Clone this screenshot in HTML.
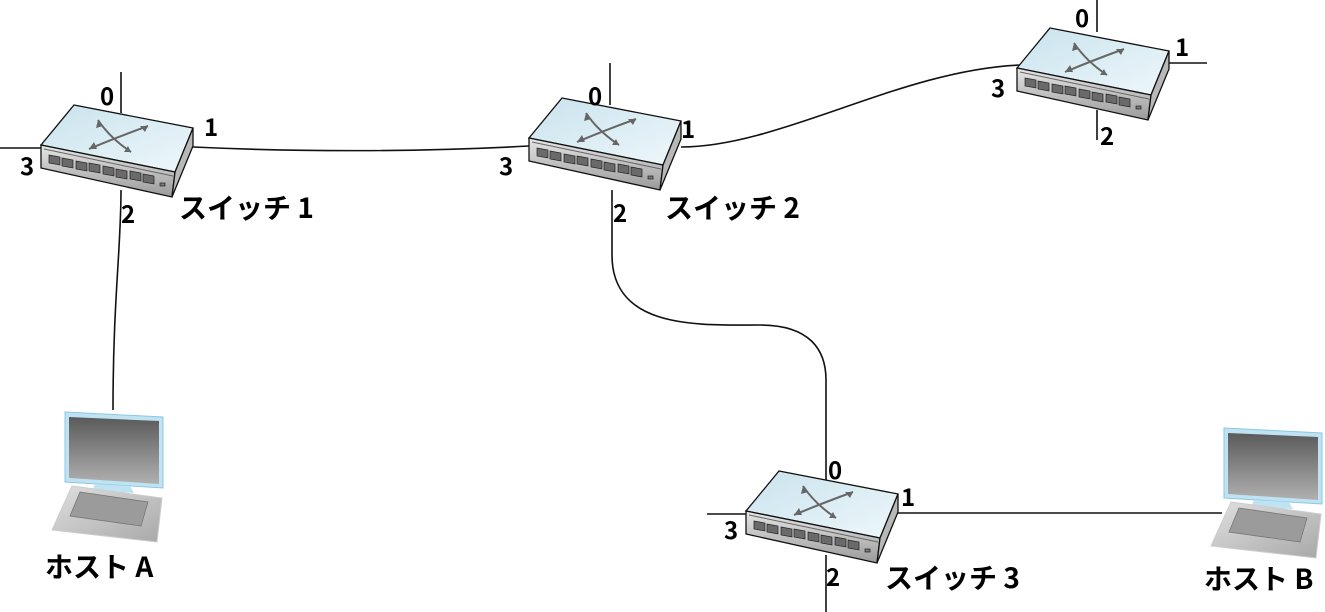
<!DOCTYPE html>
<html><head><meta charset="utf-8"><style>
html,body{margin:0;padding:0;background:#fff;}
svg{display:block;}
text{font-family:"Noto Sans CJK JP","Liberation Sans",sans-serif;font-weight:bold;fill:#000;}
</style></head><body>
<svg width="1325" height="612" viewBox="0 0 1325 612" xmlns="http://www.w3.org/2000/svg">
<defs>
<linearGradient id="top" x1="0" y1="0" x2="1" y2="1"><stop offset="0" stop-color="#c9e3ee"/><stop offset="1" stop-color="#eef7fa"/></linearGradient>
<linearGradient id="front" x1="0" y1="0" x2="0" y2="1"><stop offset="0" stop-color="#e6e6e6"/><stop offset="1" stop-color="#9a9a9a"/></linearGradient>
<linearGradient id="scr" x1="0" y1="0" x2="0" y2="1"><stop offset="0" stop-color="#5a5a5a"/><stop offset="1" stop-color="#b0b0b0"/></linearGradient>
<linearGradient id="kb" x1="0" y1="0" x2="1" y2="1"><stop offset="0" stop-color="#e0e0e0"/><stop offset="1" stop-color="#a8a8a8"/></linearGradient>
<g id="sw">
<polygon points="74,105 193,128 175,172 41,145" fill="url(#top)" stroke="#111" stroke-width="1.3"/>
<polygon points="41,145 175,172 172,197 41,168" fill="url(#front)" stroke="#111" stroke-width="1.3"/>
<polygon points="193,128 193,146 172,197 175,172" fill="#b8b8b8" stroke="#111" stroke-width="1.3"/>
<line x1="44" y1="149" x2="173" y2="176" stroke="#666" stroke-width="1"/>
<g fill="#6a6a6a" stroke="#222" stroke-width="0.7">
<polygon points="49,155 60,157 60,165 49,163"/>
<polygon points="62,158 73,160 73,168 62,166"/>
<polygon points="76,161 87,163 87,171 76,169"/>
<polygon points="89,163 100,165 100,173 89,171"/>
<polygon points="103,166 114,168 114,176 103,174"/>
<polygon points="116,169 127,171 127,179 116,177"/>
<polygon points="130,171 141,173 141,181 130,179"/>
<polygon points="143,174 154,176 154,184 143,182"/>
<rect x="160" y="183" width="5" height="3" fill="#777"/>
</g>
<g stroke="#666" stroke-width="2" fill="none">
<path d="M89,149 Q115,138 148,126"/>
<path d="M98,120 Q110,138 131,152"/>
</g>
<g fill="#666">
<polygon points="89,149 94,142 97,149"/>
<polygon points="148,126 140,126 145,132"/>
<polygon points="98,120 96,128 103,126"/>
<polygon points="131,152 124,152 128,146"/>
</g>
</g>
<g id="pc">
<polygon points="65,412 163,417 163,488 65,482" fill="#bfe3f2" stroke="#8cc8e0" stroke-width="1"/>
<polygon points="69,417 159,421 159,484 69,478" fill="url(#scr)"/>
<polygon points="95,484 130,486 134,493 92,491" fill="#bfe3f2"/>
<polygon points="72,486 162,498 157,542 52,530" fill="url(#kb)" stroke="#ccc" stroke-width="1"/>
<polygon points="80,492 148,502 141,526 70,516" fill="#9b9b9b" stroke="#777" stroke-width="0.8"/>
</g>
</defs>
<g stroke="#111" stroke-width="1.6" fill="none">
<line x1="121" y1="72" x2="121" y2="113"/>
<line x1="0" y1="148" x2="41" y2="148"/>
<path d="M193,147 C300,152 420,152 529,146"/>
<path d="M121,190 C121,250 113,300 113,410"/>
<line x1="610" y1="63" x2="610" y2="105"/>
<path d="M681,147 C780,147 900,70 1020,65"/>
<path d="M612,190 L612,255 C612,330 700,325 760,325 C810,325 826,350 826,380 L826,480"/>
<line x1="898" y1="513" x2="1222" y2="513"/>
<line x1="707" y1="514" x2="746" y2="514"/>
<line x1="826" y1="555" x2="826" y2="612"/>
<line x1="1097" y1="0" x2="1097" y2="32"/>
<line x1="1169" y1="63" x2="1207" y2="63"/>
<line x1="1097" y1="110" x2="1097" y2="140"/>
</g>
<use href="#sw"/>
<use href="#sw" transform="translate(488,-7)"/>
<use href="#sw" transform="translate(705,366)"/>
<use href="#sw" transform="translate(976,-77)"/>
<use href="#pc"/>
<use href="#pc" transform="translate(1159,16)"/>
<g font-size="24">
<text x="100" y="105">0</text><text x="204" y="136">1</text><text x="121" y="223">2</text><text x="20" y="175">3</text>
<text x="588" y="105">0</text><text x="681" y="138">1</text><text x="613" y="222">2</text><text x="499" y="175">3</text>
<text x="828" y="479">0</text><text x="901" y="506">1</text><text x="826" y="586">2</text><text x="724" y="539">3</text>
<text x="1075" y="27">0</text><text x="1175" y="56">1</text><text x="1100" y="145">2</text><text x="991" y="97">3</text>
</g>
<g font-size="28">
<text x="179" y="218">スイッチ 1</text>
<text x="665" y="218">スイッチ 2</text>
<text x="885" y="588">スイッチ 3</text>
<text x="45" y="577">ホスト A</text>
<text x="1204" y="589">ホスト B</text>
</g>
</svg>
</body></html>
